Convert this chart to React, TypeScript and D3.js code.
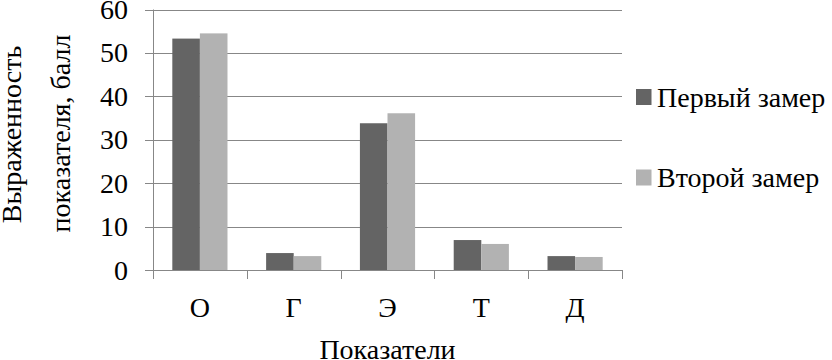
import React, { useEffect, useRef } from "react";
import * as d3 from "d3";

const categories = ["О", "Г", "Э", "Т", "Д"];
const firstValues = [53.3, 3.9, 33.8, 6.9, 3.2];
const secondValues = [54.5, 3.2, 36.1, 6.0, 3.0];
const seriesNames = ["Первый замер", "Второй замер"];
const yTicks = [0, 10, 20, 30, 40, 50, 60];

const colors = ["#646464", "#b2b2b2"];
const font = "Liberation Serif, Times New Roman, Times, serif";

const App = () => {
  const svgRef = useRef<SVGSVGElement>(null);
  const width = 832;
  const height = 360;
  const plot = { left: 153, right: 622, top: 9.5, bottom: 270 };

  useEffect(() => {
    const svg = d3.select(svgRef.current);
    svg.selectAll("*").remove();

    const x = d3
      .scaleBand()
      .domain(categories)
      .range([plot.left, plot.right]);
    const y = d3.scaleLinear().domain([0, 60]).range([plot.bottom, plot.top]);
    const inner = d3
      .scaleBand()
      .domain(seriesNames)
      .range([0, x.bandwidth()])
      .paddingInner(0)
      .paddingOuter(0.7);

    // gridlines
    svg
      .append("g")
      .selectAll("line")
      .data(yTicks)
      .enter()
      .append("line")
      .attr("x1", plot.left - 8)
      .attr("x2", plot.right)
      .attr("y1", (d) => Math.round(y(d)) + 0.5)
      .attr("y2", (d) => Math.round(y(d)) + 0.5)
      .attr("stroke", "#878787")
      .attr("stroke-width", 1);

    // bars
    const series = [firstValues, secondValues];
    series.forEach((vals, s) => {
      svg
        .append("g")
        .selectAll("rect")
        .data(vals)
        .enter()
        .append("rect")
        .attr("x", (d, i) => x(categories[i])! + inner(seriesNames[s])!)
        .attr("y", (d) => y(d))
        .attr("width", inner.bandwidth())
        .attr("height", (d) => plot.bottom - y(d))
        .attr("fill", colors[s]);
    });

    // y axis line
    svg
      .append("line")
      .attr("x1", plot.left + 0.5)
      .attr("x2", plot.left + 0.5)
      .attr("y1", plot.top)
      .attr("y2", plot.bottom)
      .attr("stroke", "#878787");

    // x axis line + ticks
    svg
      .append("line")
      .attr("x1", plot.left)
      .attr("x2", plot.right)
      .attr("y1", plot.bottom + 0.5)
      .attr("y2", plot.bottom + 0.5)
      .attr("stroke", "#878787");
    const xTickPos = categories.map((c) => x(c)!).concat([plot.right]);
    svg
      .append("g")
      .selectAll("line")
      .data(xTickPos)
      .enter()
      .append("line")
      .attr("x1", (d) => Math.round(d) + 0.5)
      .attr("x2", (d) => Math.round(d) + 0.5)
      .attr("y1", plot.bottom)
      .attr("y2", plot.bottom + 9)
      .attr("stroke", "#878787");

    const txt = (sel: any) =>
      sel.style("font-family", font).style("font-size", "28px").attr("fill", "#000");

    // y tick labels
    svg
      .append("g")
      .selectAll("text")
      .data(yTicks)
      .enter()
      .append("text")
      .text((d) => d)
      .attr("x", 128)
      .attr("y", (d) => y(d) + 9.5)
      .attr("text-anchor", "end")
      .call(txt);

    // category labels
    svg
      .append("g")
      .selectAll("text")
      .data(categories)
      .enter()
      .append("text")
      .text((d) => d)
      .attr("x", (d) => x(d)! + x.bandwidth() / 2)
      .attr("y", 317)
      .attr("text-anchor", "middle")
      .call(txt);

    // axis titles
    svg
      .append("text")
      .text("Показатели")
      .attr("x", (plot.left + plot.right) / 2 + 0)
      .attr("y", 359)
      .attr("text-anchor", "middle")
      .call(txt);

    const yTitle = ["Выраженность", "показателя, балл"];
    svg
      .append("g")
      .selectAll("text")
      .data(yTitle)
      .enter()
      .append("text")
      .text((d) => d)
      .attr("transform", (d, i) =>
        i === 0 ? "translate(21,134.5) rotate(-90)" : "translate(70,133.5) rotate(-90)"
      )
      .attr("text-anchor", "middle")
      .call(txt);

    // legend
    const legend = svg
      .append("g")
      .selectAll("g")
      .data(seriesNames)
      .enter()
      .append("g")
      .attr("transform", (d, i) => `translate(636,${89 + i * 80.5})`);
    legend
      .append("rect")
      .attr("width", 15.5)
      .attr("height", 16)
      .attr("fill", (d, i) => colors[i]);
    legend
      .append("text")
      .text((d) => d)
      .attr("x", 21)
      .attr("y", 17.5)
      .call(txt);
  }, []);

  return (
    <svg
      ref={svgRef}
      width={width}
      height={height}
      style={{ position: "absolute", left: 0, top: 0, background: "#fff" }}
    />
  );
};

export default App;
